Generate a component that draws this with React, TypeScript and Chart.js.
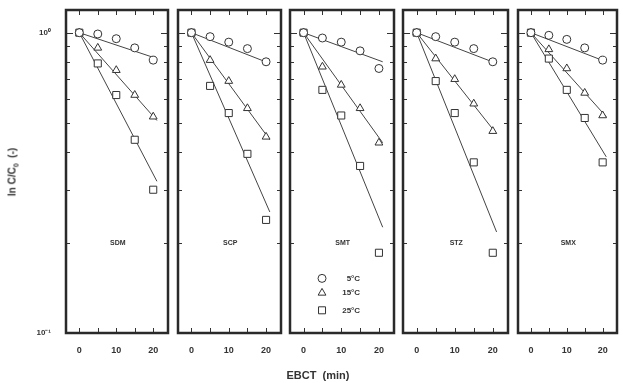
import React, { useEffect, useRef } from 'react';
import { Chart, registerables } from 'chart.js';

Chart.register(...registerables);

// ---------- data ----------
const ebct = [0, 5, 10, 15, 20];
const compounds = ['SDM', 'SCP', 'SMT', 'STZ', 'SMX'];

// measured C/C0 at 5 °C, 15 °C, 25 °C (one row per compound)
const c5C = [
  [1, 0.99, 0.955, 0.89, 0.81],
  [1, 0.97, 0.93, 0.885, 0.8],
  [1, 0.96, 0.93, 0.87, 0.76],
  [1, 0.97, 0.93, 0.885, 0.8],
  [1, 0.98, 0.95, 0.89, 0.81],
];
const c15C = [
  [1, 0.89, 0.75, 0.62, 0.525],
  [1, 0.81, 0.69, 0.56, 0.45],
  [1, 0.77, 0.67, 0.56, 0.43],
  [1, 0.82, 0.7, 0.58, 0.47],
  [1, 0.88, 0.76, 0.63, 0.53],
];
const c25C = [
  [1, 0.79, 0.62, 0.44, 0.3],
  [1, 0.665, 0.54, 0.395, 0.238],
  [1, 0.645, 0.53, 0.36, 0.185],
  [1, 0.69, 0.54, 0.37, 0.185],
  [1, 0.82, 0.645, 0.52, 0.37],
];

// fitted lines: start and end x, and end values (start value is 1)
const fitX = [0, 21];
const fitStart = 1;
const fit5C = [0.82, 0.79, 0.8, 0.79, 0.8];
const fit15C = [0.51, 0.44, 0.43, 0.46, 0.525];
const fit25C = [0.32, 0.253, 0.225, 0.217, 0.386];

const xTickLabels = [0, 10, 20];
const xMinorTicks = [0, 5, 10, 15, 20];
const yTickValues = [0.1, 1];
const yTickLabels = ['10⁻¹', '10⁰'];
const yMinorTicks = [0.2, 0.3, 0.4, 0.5, 0.6, 0.7, 0.8, 0.9, 1];
const legendLabels = ['5°C', '15°C', '25°C'];
const legendY = [0.152, 0.136, 0.119];
const sampleLabelPos = { x: 10.4, y: 0.2 };

// ---------- layout ----------
const panelLeft = [66, 178, 290, 403, 518];
const panelRight = [172, 285, 398, 512, 621];
const TOP = 10;
const BOTTOM = 333;
const H = 383;
const FONT = "'Liberation Sans', Arial, sans-serif";
const INK = '#333';

function drawMarker(ctx: CanvasRenderingContext2D, kind: number, x: number, y: number) {
  ctx.beginPath();
  if (kind === 0) {
    ctx.arc(x, y, 4, 0, Math.PI * 2);
  } else if (kind === 1) {
    const r = 4.5;
    ctx.moveTo(x, y - r);
    ctx.lineTo(x + r * 0.866, y + r * 0.5);
    ctx.lineTo(x - r * 0.866, y + r * 0.5);
    ctx.closePath();
  } else {
    const s = 3.5;
    ctx.rect(x - s, y - s, 2 * s, 2 * s);
  }
  ctx.fillStyle = '#fff';
  ctx.fill();
  ctx.strokeStyle = INK;
  ctx.lineWidth = 1;
  ctx.stroke();
}

function Panel({ index }: { index: number }) {
  const ref = useRef<HTMLCanvasElement>(null);
  const pad = index === 0 ? panelLeft[0] : 6;
  const left = panelLeft[index] - pad;
  const width = pad + (panelRight[index] - panelLeft[index]) + 2;

  useEffect(() => {
    const pts = (vals: number[]) => ebct.map((x, i) => ({ x, y: vals[i] }));
    const line = (end: number) => [
      { x: fitX[0], y: fitStart },
      { x: fitX[1], y: end },
    ];
    const pointBase = {
      showLine: false,
      borderColor: INK,
      backgroundColor: '#fff',
      borderWidth: 1,
    };
    const lineBase = {
      showLine: true,
      pointRadius: 0,
      borderColor: '#444',
      borderWidth: 1,
      backgroundColor: '#444',
    };

    const decor = {
      id: 'decor',
      afterDraw(chart: any) {
        const { ctx, chartArea: a, scales } = chart;
        const xs = scales.x;
        const ys = scales.y;
        ctx.save();
        ctx.strokeStyle = INK;
        ctx.lineWidth = 1;
        ctx.beginPath();
        xMinorTicks.forEach((v) => {
          const px = Math.round(xs.getPixelForValue(v)) + 0.5;
          ctx.moveTo(px, a.bottom);
          ctx.lineTo(px, a.bottom - 5);
          ctx.moveTo(px, a.top);
          ctx.lineTo(px, a.top + 5);
        });
        yMinorTicks.forEach((v) => {
          const py = Math.round(ys.getPixelForValue(v)) + 0.5;
          const len = v === 1 ? 7 : 4;
          ctx.moveTo(a.left, py);
          ctx.lineTo(a.left + len, py);
          ctx.moveTo(a.right, py);
          ctx.lineTo(a.right - len, py);
        });
        ctx.stroke();
        // frame
        ctx.lineWidth = 2.5;
        ctx.strokeStyle = '#2a2a2a';
        ctx.strokeRect(a.left, a.top, a.right - a.left, a.bottom - a.top);
        // sample label
        ctx.fillStyle = INK;
        ctx.font = `bold 7px ${FONT}`;
        ctx.textAlign = 'center';
        ctx.textBaseline = 'middle';
        ctx.fillText(
          compounds[index],
          xs.getPixelForValue(sampleLabelPos.x),
          ys.getPixelForValue(sampleLabelPos.y)
        );
        // legend in middle panel
        if (index === 2) {
          legendLabels.forEach((lab, k) => {
            const py = ys.getPixelForValue(legendY[k]);
            drawMarker(ctx, k, xs.getPixelForValue(4.9), py);
            ctx.fillStyle = INK;
            ctx.font = `bold 8px ${FONT}`;
            ctx.textAlign = 'right';
            ctx.textBaseline = 'middle';
            ctx.fillText(lab, xs.getPixelForValue(15), py);
          });
        }
        ctx.restore();
      },
    };

    const chart = new Chart(ref.current as HTMLCanvasElement, {
      type: 'scatter',
      data: {
        datasets: [
          { ...pointBase, data: pts(c5C[index]), pointStyle: 'circle', pointRadius: 4 },
          { ...pointBase, data: pts(c15C[index]), pointStyle: 'triangle', pointRadius: 4.5 },
          { ...pointBase, data: pts(c25C[index]), pointStyle: 'rect', pointRadius: 5 },
          { ...lineBase, data: line(fit5C[index]) },
          { ...lineBase, data: line(fit15C[index]) },
          { ...lineBase, data: line(fit25C[index]) },
        ],
      },
      options: {
        responsive: false,
        animation: false,
        devicePixelRatio: 1,
        layout: { padding: { top: TOP, right: 2, left: 0, bottom: 0 } },
        plugins: { legend: { display: false }, tooltip: { enabled: false } },
        scales: {
          x: {
            type: 'linear',
            min: -3.6,
            max: 24,
            grid: { display: false, drawTicks: false },
            border: { display: false },
            afterBuildTicks: (s: any) => {
              s.ticks = xTickLabels.map((v) => ({ value: v }));
            },
            afterFit: (s: any) => {
              s.height = H - BOTTOM;
              s.paddingLeft = 0;
              s.paddingRight = 0;
            },
            ticks: {
              padding: 12,
              color: INK,
              maxRotation: 0,
              autoSkip: false,
              font: { family: FONT, size: 9, weight: 'bold' },
              callback: (v: any) => String(v),
            },
          },
          y: {
            type: 'logarithmic',
            min: 0.1,
            max: 1.19,
            grid: { display: false, drawTicks: false },
            border: { display: false },
            afterBuildTicks: (s: any) => {
              s.ticks = yTickValues.map((v) => ({ value: v }));
            },
            afterFit: (s: any) => {
              s.width = pad;
              s.paddingTop = 0;
              s.paddingBottom = 0;
            },
            ticks: {
              display: index === 0,
              padding: 15,
              color: INK,
              autoSkip: false,
              font: { family: FONT, size: 8, weight: 'bold' },
              callback: (v: any) => yTickLabels[yTickValues.indexOf(Number(v))] ?? '',
            },
          },
        },
      },
      plugins: [decor],
    } as any);
    return () => chart.destroy();
  }, []);

  return (
    <canvas
      ref={ref}
      width={width}
      height={H}
      style={{ position: 'absolute', left, top: 0, width, height: H }}
    />
  );
}

export default function App() {
  return (
    <div
      style={{
        position: 'absolute',
        left: 0,
        top: 0,
        width: 623,
        height: 383,
        background: '#fff',
        overflow: 'hidden',
        fontFamily: FONT,
        color: INK,
      }}
    >
      {compounds.map((_, i) => (
        <Panel key={i} index={i} />
      ))}
      <div
        style={{
          position: 'absolute',
          left: 13,
          top: 172,
          transform: 'translate(-50%, -50%) rotate(-90deg)',
          whiteSpace: 'nowrap',
          fontSize: 10,
          fontWeight: 'bold',
        }}
      >
        ln C/C<sub style={{ fontSize: 7 }}>0</sub>&nbsp; (-)
      </div>
      <div
        style={{
          position: 'absolute',
          left: 318,
          top: 375,
          transform: 'translate(-50%, -50%)',
          whiteSpace: 'nowrap',
          fontSize: 11,
          fontWeight: 'bold',
        }}
      >
        EBCT&nbsp; (min)
      </div>
    </div>
  );
}
